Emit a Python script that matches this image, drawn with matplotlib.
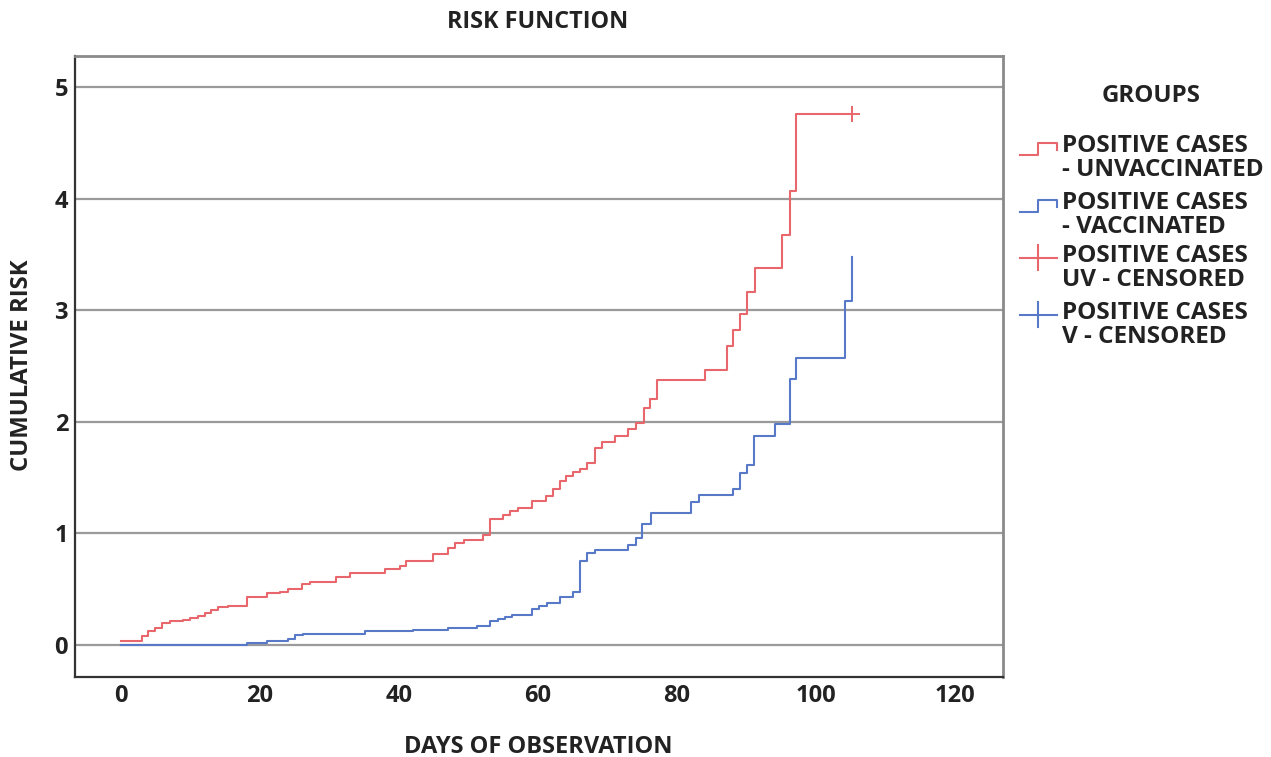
import numpy as np
import matplotlib
matplotlib.use("Agg")
import matplotlib.pyplot as plt
from matplotlib.lines import Line2D

# cumulative risk, step-post (day of event, risk after event)
uv_days = [0, 3, 3.9, 4.9, 5.9, 7, 9, 9.9, 11.1, 12.1, 13, 14, 15.4, 18.1, 21, 22.9,
           24.1, 26, 27.2, 31, 32.9, 38, 40.1, 41, 44.9, 47.1, 48.1, 49.3, 52.1, 53.1,
           55, 56, 57.2, 59.1, 61.1, 62.1, 63.2, 64.1, 65.1, 66.1, 67.1, 68.2, 69.2,
           71.1, 73, 74.1, 75.2, 76.1, 77.1, 84, 87.2, 88.1, 89.1, 90.1, 91.2, 95.1,
           96.2, 97.1, 105.2]
uv_risk = [0.03, 0.08, 0.12, 0.15, 0.19, 0.21, 0.22, 0.24, 0.26, 0.28, 0.31, 0.34, 0.35,
           0.43, 0.46, 0.47, 0.50, 0.54, 0.56, 0.61, 0.64, 0.68, 0.71, 0.75, 0.81, 0.87,
           0.91, 0.94, 0.98, 1.13, 1.16, 1.20, 1.23, 1.29, 1.33, 1.40, 1.47, 1.51, 1.55,
           1.58, 1.63, 1.76, 1.82, 1.87, 1.93, 1.99, 2.12, 2.20, 2.37, 2.46, 2.68, 2.82,
           2.97, 3.16, 3.38, 3.67, 4.07, 4.76, 4.76]

v_days = [0, 18.1, 21, 24.1, 25, 26.2, 35.1, 42, 47.1, 51.2, 53.1, 54.2, 55.2, 56.2,
          59.1, 60.1, 61.3, 63.2, 65.1, 66, 67.1, 68.2, 73, 74.1, 75, 76.2, 82, 83.2,
          88, 89.1, 90.1, 91.1, 94.1, 96.2, 97.1, 104.2, 105.2]
v_risk = [0, 0.015, 0.03, 0.05, 0.09, 0.10, 0.12, 0.13, 0.15, 0.17, 0.21, 0.23, 0.25,
          0.27, 0.32, 0.35, 0.37, 0.43, 0.47, 0.75, 0.82, 0.85, 0.89, 0.96, 1.08, 1.18,
          1.28, 1.34, 1.40, 1.54, 1.61, 1.87, 1.98, 2.38, 2.57, 3.08, 3.48]

uv_censored = ([105.2], [4.76])

x_ticks = [0, 20, 40, 60, 80, 100, 120]
y_ticks = [0, 1, 2, 3, 4, 5]

legend_labels = ["POSITIVE CASES\n- UNVACCINATED", "POSITIVE CASES\n- VACCINATED",
                 "POSITIVE CASES\nUV - CENSORED", "POSITIVE CASES\nV - CENSORED"]

RED = "#E8676C"
BLUE = "#5878C8"
FONT = "Open Sans"

W, H = 1271, 757
fig = plt.figure(figsize=(W / 100, H / 100), dpi=100)
ax = fig.add_axes([75 / W, 1 - 677 / H, (1003 - 75) / W, (677 - 56) / H])

for y in y_ticks:
    ax.axhline(y, color="#9a9a9a", lw=1.6, zorder=1)

ax.step(uv_days, uv_risk, where="post", color=RED, lw=1.5, zorder=3)
ax.step(v_days, v_risk, where="post", color=BLUE, lw=1.5, zorder=3)
ax.plot(*uv_censored, "+", color=RED, ms=11, mew=1.4, zorder=4)

ax.set_xlim(-6.6, 126.9)
ax.set_ylim(-0.29, 5.28)
ax.set_xticks(x_ticks)
ax.set_yticks(y_ticks)
ax.tick_params(length=0, labelsize=17)
ax.tick_params(axis="x", pad=5)
ax.tick_params(axis="y", pad=5)
for lab in ax.get_xticklabels() + ax.get_yticklabels():
    lab.set_fontfamily(FONT)
    lab.set_fontweight("bold")
    lab.set_color("#222222")

for side in ("left", "bottom"):
    ax.spines[side].set_color("#333333")
    ax.spines[side].set_linewidth(1.6)
for side in ("top", "right"):
    ax.spines[side].set_color("#8a8a8a")
    ax.spines[side].set_linewidth(2.0)

txt = dict(fontfamily=FONT, fontweight="bold", color="#222222")
fig.text(538 / W, 1 - 22 / H, "RISK FUNCTION", ha="center", va="center", fontsize=16.8, **txt)
fig.text(538 / W, 1 - 747 / H, "DAYS OF OBSERVATION", ha="center", va="center",
         fontsize=17, **txt)
fig.text(22 / W, 1 - 365 / H, "CUMULATIVE RISK", ha="center", va="center", rotation=90,
         fontsize=17.2, **txt)

# legend, drawn by hand in pixel positions
def fx(px):
    return px / W


def fy(py):
    return 1 - py / H


fig.text(fx(1151), fy(96), "GROUPS", ha="center", va="center", fontsize=17.4, **txt)

centers = [158, 215, 268, 325]
for i, (lab, cy) in enumerate(zip(legend_labels, centers)):
    col = RED if i % 2 == 0 else BLUE
    if i < 2:
        xs = [1020, 1038, 1038, 1057, 1057]
        ys = [cy - 3, cy - 3, cy - 15, cy - 15, cy - 8]
        fig.add_artist(Line2D([fx(v) for v in xs], [fy(v) for v in ys], color=col, lw=1.5))
    else:
        fig.add_artist(Line2D([fx(1020), fx(1057)], [fy(cy - 10), fy(cy - 10)], color=col, lw=1.5))
        fig.add_artist(Line2D([fx(1038), fx(1038)], [fy(cy - 23), fy(cy + 2)], color=col, lw=1.5))
    fig.text(fx(1062), fy(cy), lab, ha="left", va="center", fontsize=17.5,
             linespacing=0.95, **txt)

fig.savefig("out.png", dpi=100, facecolor="white")
